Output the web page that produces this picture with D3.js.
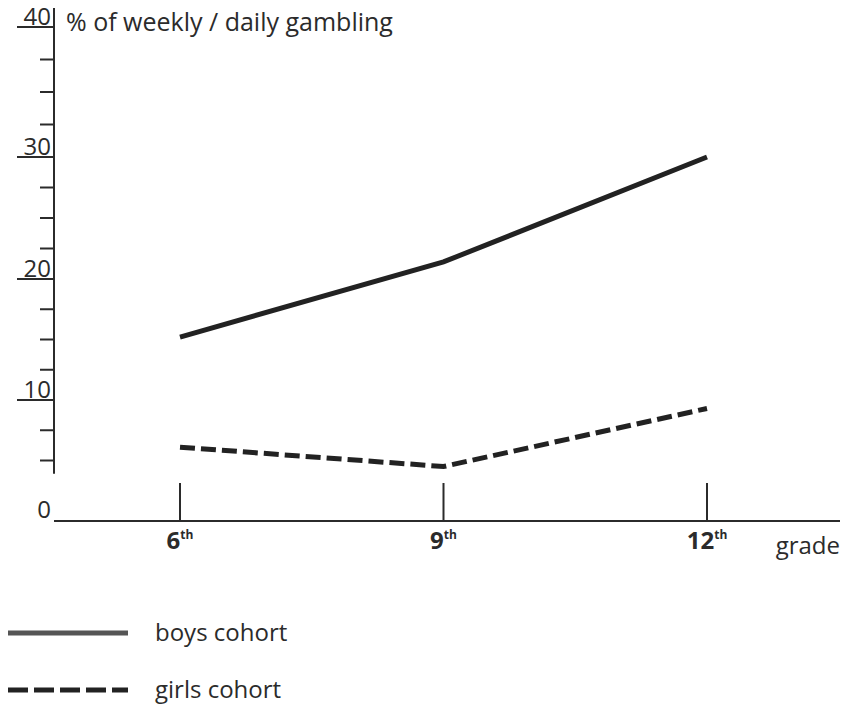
<!DOCTYPE html>
<html>
<head>
<meta charset="utf-8">
<script src="https://cdn.jsdelivr.net/npm/d3@7"></script>
<style>
  body { margin: 0; background: #fff; }
  svg { font-family: "Open Sans", "Noto Sans", sans-serif; }
</style>
</head>
<body>
<script>
// data
const grades = [6, 9, 12];
const gradeLabels = ["6", "9", "12"];
const boys = [15.2, 21.4, 30.0];
const girls = [6.1, 4.5, 9.3];
const majorTicks = [10, 20, 30, 40];
const minorTicks = [5, 7.5, 12.5, 15, 17.5, 22.5, 25, 27.5, 32.5, 35, 37.5];
const seriesNames = ["boys cohort", "girls cohort"];

const width = 852, height = 706;
const ink = "#2b2b2b";

const svg = d3.select("body").append("svg")
    .attr("width", width)
    .attr("height", height);

// scanned axis is not perfectly even, so use a piecewise scale
const y = d3.scaleLinear()
    .domain([0, 10, 20, 30, 40])
    .range([521, 400, 279, 157, 27]);

const x = d3.scaleLinear()
    .domain([6, 12])
    .range([180, 707]);

const axisX = 54;

// y axis line (broken before zero)
svg.append("line")
    .attr("x1", axisX).attr("x2", axisX)
    .attr("y1", y(3.9)).attr("y2", 8)
    .attr("stroke", ink).attr("stroke-width", 2);

svg.selectAll(".major")
    .data(majorTicks)
    .join("line")
    .attr("class", "major")
    .attr("x1", 17).attr("x2", axisX)
    .attr("y1", d => y(d)).attr("y2", d => y(d))
    .attr("stroke", ink).attr("stroke-width", 2);

svg.selectAll(".minor")
    .data(minorTicks)
    .join("line")
    .attr("class", "minor")
    .attr("x1", 40).attr("x2", axisX)
    .attr("y1", d => y(d)).attr("y2", d => y(d))
    .attr("stroke", ink).attr("stroke-width", 2);

svg.selectAll(".ylab")
    .data([0].concat(majorTicks))
    .join("text")
    .attr("class", "ylab")
    .attr("x", 51)
    .attr("y", d => d === 0 ? y(d) - 3 : y(d) - 2)
    .attr("text-anchor", "end")
    .style("font-size", "24px")
    .style("fill", ink)
    .text(d => d);

svg.append("text")
    .attr("x", 66).attr("y", 31)
    .style("font-size", "25px")
    .style("fill", ink)
    .text("% of weekly / daily gambling");

// x axis
svg.append("line")
    .attr("x1", axisX).attr("x2", 840)
    .attr("y1", y(0)).attr("y2", y(0))
    .attr("stroke", ink).attr("stroke-width", 2);

svg.selectAll(".xtick")
    .data(grades)
    .join("line")
    .attr("class", "xtick")
    .attr("x1", d => x(d)).attr("x2", d => x(d))
    .attr("y1", y(0)).attr("y2", y(0) - 38)
    .attr("stroke", ink).attr("stroke-width", 2);

const xl = svg.selectAll(".xlab")
    .data(grades)
    .join("text")
    .attr("class", "xlab")
    .attr("x", d => x(d))
    .attr("y", 549)
    .attr("text-anchor", "middle")
    .style("font-size", "24px")
    .style("font-weight", "bold")
    .style("fill", ink);
xl.append("tspan").text((d, i) => gradeLabels[i]);
xl.append("tspan")
    .attr("dy", -10)
    .style("font-size", "12px")
    .text("th");

svg.append("text")
    .attr("x", 840).attr("y", 554)
    .attr("text-anchor", "end")
    .style("font-size", "24px")
    .style("fill", ink)
    .text("grade");

// lines
const line = d3.line()
    .x((d, i) => x(grades[i]))
    .y(d => y(d));

svg.append("path")
    .datum(boys)
    .attr("d", line)
    .attr("fill", "none")
    .attr("stroke", "#222")
    .attr("stroke-width", 5);

svg.append("path")
    .datum(girls)
    .attr("d", line)
    .attr("fill", "none")
    .attr("stroke", "#222")
    .attr("stroke-width", 5)
    .attr("stroke-dasharray", "15,6");

// legend
const legend = svg.append("g");
const legY = [633, 690];

legend.selectAll("line")
    .data(seriesNames)
    .join("line")
    .attr("x1", 8).attr("x2", 128)
    .attr("y1", (d, i) => legY[i]).attr("y2", (d, i) => legY[i])
    .attr("stroke", (d, i) => i === 0 ? "#555" : "#222")
    .attr("stroke-width", 5)
    .attr("stroke-dasharray", (d, i) => i === 0 ? null : "20,6");

legend.selectAll("text")
    .data(seriesNames)
    .join("text")
    .attr("x", 155)
    .attr("y", (d, i) => legY[i] + 8)
    .style("font-size", "24px")
    .style("fill", ink)
    .text(d => d);
</script>
</body>
</html>
